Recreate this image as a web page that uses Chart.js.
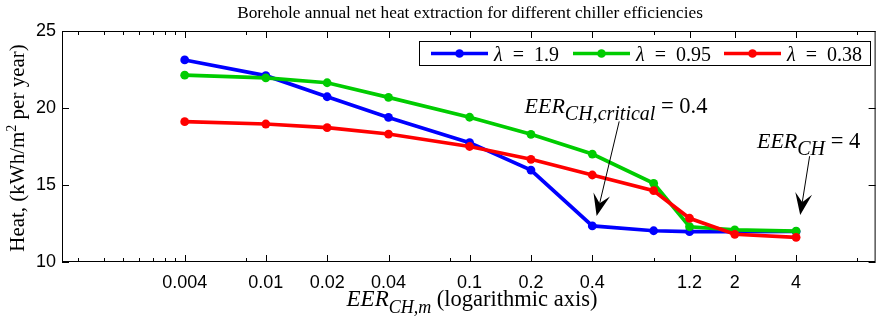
<!DOCTYPE html>
<html>
<head>
<meta charset="utf-8">
<script src="https://cdn.jsdelivr.net/npm/chart.js@4.4.0/dist/chart.umd.min.js"></script>
<style>
  html, body { margin: 0; padding: 0; background: #fff; overflow: hidden; }
</style>
</head>
<body>
<canvas id="chart" width="880" height="324"></canvas>
<script>
// chiller EER values (x, log axis)
const eerValues = [0.004, 0.01, 0.02, 0.04, 0.1, 0.2, 0.4, 0.8, 1.2, 2, 4];
// net heat extraction, kWh/m2 per year
const heatLambda190 = [23.12, 22.10, 20.73, 19.39, 17.75, 15.97, 12.34, 12.03, 11.97, 11.97, 11.98];
const heatLambda095 = [22.13, 21.95, 21.64, 20.69, 19.40, 18.29, 17.01, 15.11, 12.29, 12.08, 12.01];
const heatLambda038 = [19.11, 18.96, 18.72, 18.31, 17.50, 16.67, 15.65, 14.63, 12.84, 11.80, 11.60];
const seriesLabels = ['1.9', '0.95', '0.38'];
const seriesColors = ['#0000ff', '#00cc00', '#ff0000'];

const xTickLabels = [0.004, 0.01, 0.02, 0.04, 0.1, 0.2, 0.4, 1.2, 2, 4];
const xMinorTicks = [0.0012, 0.0016, 0.002, 0.0024, 0.0028, 0.0032, 0.0036, 0.008, 0.08, 0.8, 8];
const yTickValues = [10, 15, 20, 25];

// text callouts, in data units
const callouts = [
    { main: 'EER', sub: 'CH,critical', rest: ' = 0.4', x: 0.186, y: 19.7, fromX: 0.542, fromY: 19.13, toX: 0.42, toY: 12.99 },
    { main: 'EER', sub: 'CH', rest: ' = 4', x: 2.57, y: 17.41, fromX: 4.66, fromY: 16.87, toX: 4.19, toY: 13.05 }
];

const SERIF = '"Liberation Serif", "DejaVu Serif", serif';
const SANS = '"Liberation Sans", Arial, sans-serif';

function drawParts(ctx, x, y, parts) {
    // parts: [{ t, font, dy }]
    let cx = x;
    parts.forEach(p => {
        ctx.font = p.font;
        ctx.fillText(p.t, cx, y + (p.dy || 0));
        cx += ctx.measureText(p.t).width;
    });
    return cx - x;
}

function partsWidth(ctx, parts) {
    return parts.reduce((w, p) => { ctx.font = p.font; return w + ctx.measureText(p.t).width; }, 0);
}

function drawArrow(ctx, x1, y1, x2, y2) {
    ctx.save();
    ctx.strokeStyle = '#000';
    ctx.fillStyle = '#000';
    ctx.lineWidth = 1;
    const ang = Math.atan2(y2 - y1, x2 - x1);
    const len = 22, half = 8.5, notch = 13;
    ctx.beginPath();
    ctx.moveTo(x1, y1);
    ctx.lineTo(x2 - Math.cos(ang) * notch, y2 - Math.sin(ang) * notch);
    ctx.stroke();
    ctx.translate(x2, y2);
    ctx.rotate(ang);
    ctx.beginPath();
    ctx.moveTo(0, 0);
    ctx.lineTo(-len, -half);
    ctx.lineTo(-notch, 0);
    ctx.lineTo(-len, half);
    ctx.closePath();
    ctx.fill();
    ctx.restore();
}

const decorPlugin = {
    id: 'decor',
    afterDatasetsDraw(chart) {
        const { ctx, chartArea: a, scales: { x, y } } = chart;
        ctx.save();

        // frame
        ctx.strokeStyle = '#000';
        ctx.lineWidth = 1;
        ctx.strokeRect(a.left + 0.5, a.top + 0.5, a.right - a.left - 1, a.bottom - a.top - 1);

        // inward ticks
        ctx.beginPath();
        const tickX = (v, len) => {
            const px = Math.round(x.getPixelForValue(v)) + 0.5;
            ctx.moveTo(px, a.bottom); ctx.lineTo(px, a.bottom - len);
            ctx.moveTo(px, a.top); ctx.lineTo(px, a.top + len);
        };
        xTickLabels.forEach(v => tickX(v, 7));
        xMinorTicks.forEach(v => tickX(v, 4));
        yTickValues.forEach(v => {
            const py = Math.round(y.getPixelForValue(v)) + 0.5;
            ctx.moveTo(a.left, py); ctx.lineTo(a.left + 7, py);
            ctx.moveTo(a.right, py); ctx.lineTo(a.right - 7, py);
        });
        ctx.stroke();

        ctx.fillStyle = '#000';
        ctx.textBaseline = 'alphabetic';

        // title
        ctx.font = '17.3px ' + SERIF;
        ctx.textAlign = 'center';
        ctx.fillText('Borehole annual net heat extraction for different chiller efficiencies', 470, 18);
        ctx.textAlign = 'left';

        // x axis title
        const xParts = [
            { t: 'EER', font: 'italic 23px ' + SERIF },
            { t: 'CH,m', font: 'italic 18px ' + SERIF, dy: 7 },
            { t: ' (logarithmic axis)', font: '22.5px ' + SERIF }
        ];
        const xw = partsWidth(ctx, xParts);
        drawParts(ctx, 472 - xw / 2, 306, xParts);

        // y axis title
        const yParts = [
            { t: 'Heat, (kWh/m', font: '21px ' + SERIF },
            { t: '2', font: '14px ' + SERIF, dy: -8 },
            { t: ' per year)', font: '21px ' + SERIF }
        ];
        const yw = partsWidth(ctx, yParts);
        ctx.save();
        ctx.translate(24, 148);
        ctx.rotate(-Math.PI / 2);
        drawParts(ctx, -yw / 2, 0, yParts);
        ctx.restore();

        // callouts
        callouts.forEach(c => {
            drawParts(ctx, x.getPixelForValue(c.x), y.getPixelForValue(c.y), [
                { t: c.main, font: 'italic 22px ' + SERIF },
                { t: c.sub, font: 'italic 20px ' + SERIF, dy: 7 },
                { t: c.rest, font: '22.5px ' + SERIF }
            ]);
            drawArrow(ctx, x.getPixelForValue(c.fromX), y.getPixelForValue(c.fromY),
                x.getPixelForValue(c.toX), y.getPixelForValue(c.toY));
        });

        // legend
        const lx = 419.5, ly = 41.5, lw = 451, lh = 24;
        const itemX = [431, 573, 724];
        ctx.fillStyle = '#fff';
        ctx.fillRect(lx, ly, lw, lh);
        ctx.strokeStyle = '#000';
        ctx.strokeRect(lx, ly, lw, lh);
        const cy = ly + lh / 2;
        chart.data.datasets.forEach((ds, i) => {
            const cx = itemX[i];
            ctx.strokeStyle = ds.borderColor;
            ctx.lineWidth = 3.5;
            ctx.beginPath();
            ctx.moveTo(cx, cy); ctx.lineTo(cx + 57, cy);
            ctx.stroke();
            ctx.fillStyle = ds.borderColor;
            ctx.beginPath();
            ctx.arc(cx + 28.5, cy, 4.3, 0, Math.PI * 2);
            ctx.fill();
            ctx.fillStyle = '#000';
            drawParts(ctx, cx + 63, cy + 7, [
                { t: 'λ', font: 'italic 20px ' + SERIF },
                { t: '  =  ', font: '20px ' + SERIF },
                { t: seriesLabels[i], font: '20px ' + SERIF }
            ]);
        });

        ctx.restore();
    }
};

const datasets = [heatLambda190, heatLambda095, heatLambda038].map((vals, i) => ({
    label: 'λ = ' + seriesLabels[i],
    data: eerValues.map((e, j) => ({ x: e, y: vals[j] })),
    borderColor: seriesColors[i],
    backgroundColor: seriesColors[i],
    borderWidth: 3.7,
    pointRadius: 4.4,
    pointBorderWidth: 0,
    pointBackgroundColor: seriesColors[i],
    tension: 0,
    order: 3 - i
}));

new Chart(document.getElementById('chart'), {
    type: 'line',
    data: { datasets },
    options: {
        responsive: false,
        animation: false,
        devicePixelRatio: 1,
        layout: { padding: { top: 31, right: 2, left: 0, bottom: 0 } },
        plugins: { legend: { display: false }, title: { display: false }, tooltip: { enabled: false } },
        scales: {
            x: {
                type: 'logarithmic',
                min: 0.001,
                max: 9.82,
                grid: { display: false, drawTicks: false },
                border: { display: false },
                afterBuildTicks: scale => { scale.ticks = xTickLabels.map(v => ({ value: v })); },
                afterFit: scale => { scale.height = 62; },
                ticks: {
                    autoSkip: false,
                    maxRotation: 0,
                    padding: 10,
                    color: '#000',
                    font: { family: SANS, size: 18 },
                    callback: v => String(v)
                }
            },
            y: {
                min: 10,
                max: 25,
                grid: { display: false, drawTicks: false },
                border: { display: false },
                afterBuildTicks: scale => { scale.ticks = yTickValues.map(v => ({ value: v })); },
                afterFit: scale => { scale.width = 62; },
                ticks: {
                    padding: 6,
                    color: '#000',
                    font: { family: SANS, size: 18 }
                }
            }
        }
    },
    plugins: [decorPlugin]
});
</script>
</body>
</html>
